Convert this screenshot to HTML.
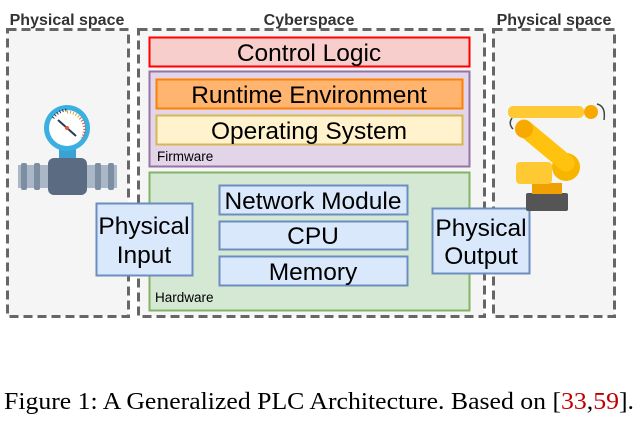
<!DOCTYPE html>
<html><head><meta charset="utf-8"><style>html,body{margin:0;padding:0;background:#fff}svg{display:block}</style></head><body>
<svg width="643" height="424" viewBox="0 0 643 424" xmlns="http://www.w3.org/2000/svg" font-family="Liberation Sans, Arial, sans-serif">
<rect x="7.5" y="29.5" width="121" height="287" fill="#f5f5f5" stroke="#666" stroke-width="3" stroke-dasharray="9,5"/>
<rect x="138.5" y="29.5" width="346" height="287" fill="#f5f5f5" stroke="#666" stroke-width="3" stroke-dasharray="9,5"/>
<rect x="493.5" y="29.5" width="121" height="287" fill="#f5f5f5" stroke="#666" stroke-width="3" stroke-dasharray="9,5"/>
<text x="67" y="25" font-size="16" font-weight="bold" fill="#333" text-anchor="middle">Physical space</text>
<text x="309" y="25" font-size="16" font-weight="bold" fill="#333" text-anchor="middle">Cyberspace</text>
<text x="554" y="25" font-size="16" font-weight="bold" fill="#333" text-anchor="middle">Physical space</text>
<rect x="149.5" y="37.5" width="320" height="29" fill="#f8cecc" stroke="#ff0000" stroke-width="2"/>
<text x="309" y="61" font-size="24.5" text-anchor="middle">Control Logic</text>
<rect x="149.5" y="71.5" width="320" height="95" fill="#e1d5e7" stroke="#9673a6" stroke-width="2"/>
<rect x="156.5" y="79.5" width="306" height="29" fill="#ffb570" stroke="#ff8000" stroke-width="2"/>
<text x="309" y="103" font-size="24.5" text-anchor="middle">Runtime Environment</text>
<rect x="156.5" y="115.5" width="306" height="29" fill="#fff2cc" stroke="#d6b656" stroke-width="2"/>
<text x="309" y="139" font-size="24.5" text-anchor="middle">Operating System</text>
<text x="157" y="161" font-size="13.5">Firmware</text>
<rect x="149.5" y="172.5" width="320" height="138" fill="#d5e8d4" stroke="#82b366" stroke-width="2"/>
<rect x="219.5" y="185.5" width="188" height="29" fill="#dae8fc" stroke="#6c8ebf" stroke-width="2"/>
<text x="313" y="209" font-size="24.5" text-anchor="middle">Network Module</text>
<rect x="219.5" y="221.5" width="188" height="28" fill="#dae8fc" stroke="#6c8ebf" stroke-width="2"/>
<text x="313" y="244" font-size="24.5" text-anchor="middle">CPU</text>
<rect x="219.5" y="256.5" width="188" height="29" fill="#dae8fc" stroke="#6c8ebf" stroke-width="2"/>
<text x="313" y="280" font-size="24.5" text-anchor="middle">Memory</text>
<text x="155" y="302" font-size="13.5">Hardware</text>
<rect x="96.5" y="203.5" width="96" height="72" fill="#dae8fc" stroke="#6c8ebf" stroke-width="2"/>
<text x="144" y="234" font-size="24.5" text-anchor="middle">Physical</text>
<text x="144" y="263" font-size="24.5" text-anchor="middle">Input</text>
<rect x="432.5" y="208.5" width="97" height="65" fill="#dae8fc" stroke="#6c8ebf" stroke-width="2"/>
<text x="481" y="236" font-size="24.5" text-anchor="middle">Physical</text>
<text x="481" y="264" font-size="24.5" text-anchor="middle">Output</text>
<rect x="18" y="165" width="99" height="23" fill="#a9b7c6"/>
<rect x="21" y="163" width="6" height="27" rx="2" fill="#7d8ea3"/>
<rect x="34" y="163" width="6" height="27" rx="2" fill="#7d8ea3"/>
<rect x="95" y="163" width="6" height="27" rx="2" fill="#7d8ea3"/>
<rect x="108" y="163" width="6" height="27" rx="2" fill="#7d8ea3"/>
<rect x="59" y="148" width="17" height="12" fill="#3aa3d4"/>
<rect x="48" y="158" width="39" height="37" rx="6" fill="#5a6b82"/>
<circle cx="67" cy="128" r="23" fill="#3ab0e2"/>
<circle cx="67" cy="128" r="18" fill="#fff"/>
<path d="M53 118 A18 18 0 0 1 67 110" stroke="#333" stroke-width="3" fill="none" stroke-dasharray="1,2"/>
<path d="M67 112 A16 16 0 0 1 79 117" stroke="#e2a62b" stroke-width="3" fill="none" stroke-dasharray="1,2"/>
<path d="M80 118 A16 16 0 0 1 82 138" stroke="#e8553a" stroke-width="3" fill="none" stroke-dasharray="1,2"/>
<line x1="58" y1="120" x2="76" y2="136" stroke="#2a3a50" stroke-width="2"/>
<circle cx="67" cy="128" r="2" fill="#e8553a"/>
<rect x="526" y="193" width="42" height="18" rx="2" fill="#555"/>
<rect x="532" y="183" width="30" height="11" fill="#f0a000"/>
<rect x="516" y="162" width="36" height="22" rx="4" fill="#ffc933"/>
<circle cx="566" cy="167" r="14" fill="#f7b500"/>
<path d="M524 128 L566 163" stroke="#ffc20e" stroke-width="17" stroke-linecap="round"/>
<circle cx="524" cy="129" r="9" fill="#f7a900"/>
<rect x="508" y="106" width="76" height="12" rx="5" fill="#ffc933"/>
<circle cx="591" cy="112" r="7" fill="#f7a900"/>
<path d="M597 104 Q606 106 604 120" stroke="#444" stroke-width="1.5" fill="none"/>
<path d="M512 118 Q508 124 513 129" stroke="#444" stroke-width="1.5" fill="none"/>
<text x="4" y="409" font-family="Liberation Serif, Times New Roman, serif" font-size="24" textLength="630" lengthAdjust="spacingAndGlyphs">Figure 1: A Generalized PLC Architecture. Based on [<tspan fill="#c00000">33</tspan>,<tspan fill="#c00000">59</tspan>].</text>
</svg>
</body></html>
